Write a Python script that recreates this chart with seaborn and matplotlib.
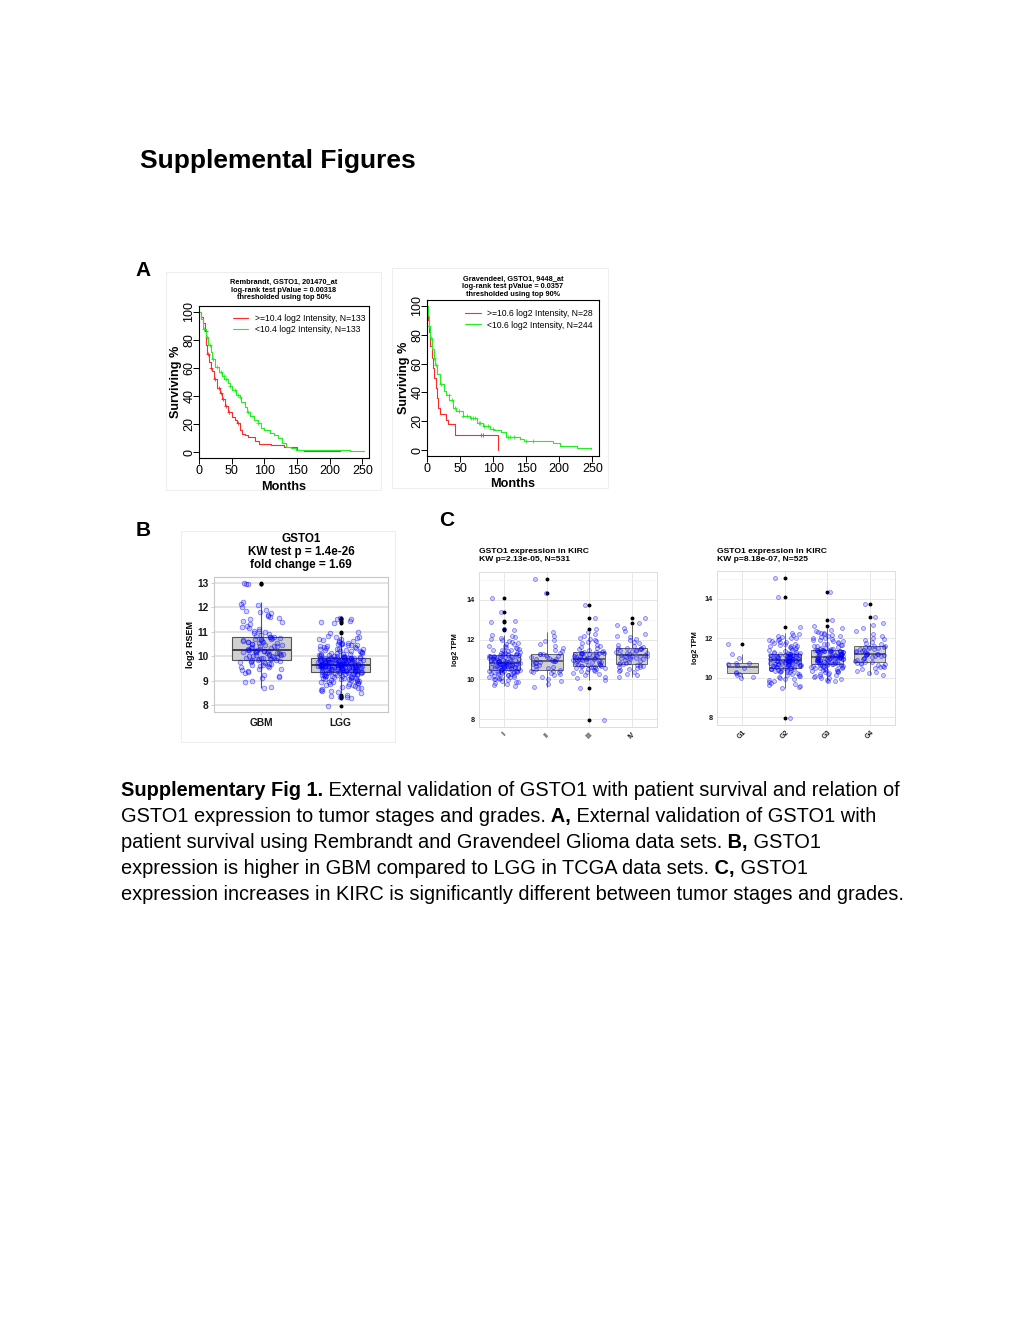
import numpy as np
import pandas as pd
import matplotlib
matplotlib.use('Agg')
import matplotlib.pyplot as plt
import seaborn as sns
from matplotlib.patches import Rectangle

W, H = 1020, 1320

# ---- A: Kaplan-Meier curves (months, surviving %) ----
rem_hi_t = [0, 3, 6, 9, 11, 13, 15, 18, 20, 23, 27, 32, 35, 40, 45, 50, 55, 58, 62, 66, 70, 75, 85, 92, 110, 130, 150, 160, 215]
rem_hi_s = [100, 96, 92, 86, 76, 70, 64, 60, 58, 52, 46, 42, 38, 33, 29, 25, 23, 21, 16, 13, 12, 11, 8, 6, 5, 4, 2, 1, 1]
rem_hi_cens = [10, 14, 19, 25, 30, 33, 37, 42, 46, 60]
rem_lo_t = [0, 3, 6, 10, 14, 18, 20, 24, 30, 35, 39, 44, 48, 51, 57, 62, 65, 70, 74, 78, 84, 90, 95, 100, 108, 115, 121, 127, 133, 140, 149, 231, 253]
rem_lo_s = [100, 95, 88, 82, 76, 71, 66, 61, 57, 54, 52, 49, 47, 44, 41, 39, 36, 32, 29, 26, 23, 21, 17, 16, 14, 12, 10, 7, 4, 3, 2, 1, 1]
rem_lo_cens = [7, 12, 17, 21, 28, 34, 38, 42, 48, 55, 60, 62, 75, 90]

grv_hi_t = [0, 1, 3, 5, 7, 9, 11, 13, 15, 17, 20, 28, 32, 42, 108]
grv_hi_s = [100, 90, 82, 72, 64, 57, 50, 43, 36, 29, 25, 21, 18, 10.7, 0]
grv_hi_cens = [82, 84]
grv_lo_t = [0, 1, 3, 5, 8, 10, 12, 15, 20, 25, 29, 34, 39, 44, 55, 65, 76, 85, 95, 102, 112, 119, 140, 146, 191, 201, 226, 248]
grv_lo_s = [100, 93, 86, 78, 70, 64, 59, 53, 46, 41, 38, 35, 29, 27, 24, 22, 19, 17, 15, 14, 12.5, 9, 8, 6.5, 5, 3, 1.5, 1]
grv_lo_cens = [3, 6, 10, 14, 21, 33, 38, 42, 48, 55, 60, 66, 70, 72, 78, 80, 86, 92, 100, 122, 126, 132, 150, 160]

# ---- B: TCGA glioma log2 RSEM ----
gbm_vals = [8.7, 8.75, 9.0, 9.1, 9.15, 9.2, 9.3, 9.35, 9.45, 9.5, 9.55, 9.6, 9.62, 9.65, 9.7, 9.72, 9.75, 9.78, 9.8, 9.83,
            9.86, 9.88, 9.9, 9.92, 9.95, 9.97, 10.0, 10.02, 10.04, 10.06, 10.08, 10.1, 10.12, 10.14, 10.16, 10.18, 10.2, 10.21, 10.22, 10.24,
            10.26, 10.3, 10.33, 10.36, 10.4, 10.43, 10.46, 10.5, 10.52, 10.55, 10.58, 10.6, 10.62, 10.65, 10.68, 10.7, 10.72, 10.75, 10.77, 10.79,
            10.82, 10.9, 10.95, 11.0, 11.05, 11.1, 11.2, 11.3, 11.4, 11.5, 11.6, 11.7, 11.75, 11.8, 11.9, 12.0, 12.2, 12.95, 12.95, 12.97,
            8.95, 9.25, 9.4, 9.5, 9.58, 9.66, 9.7, 9.76, 9.8, 9.84, 9.87, 9.93, 9.98, 10.03, 10.07, 10.11, 10.15, 10.19, 10.22, 10.24,
            10.28, 10.34, 10.41, 10.47, 10.53, 10.59, 10.64, 10.69, 10.74, 10.78, 10.85, 11.02, 11.15, 11.25, 11.45, 11.55, 11.65, 11.85, 12.1, 12.15]
lgg_vals = [7.98, 8.3, 8.33, 8.36, 8.38, 8.42, 8.5, 8.55, 8.6, 8.64, 8.68, 8.72, 8.76, 8.8, 8.83, 8.86, 8.89, 8.92, 8.95, 8.97,
            9.0, 9.02, 9.04, 9.07, 9.09, 9.11, 9.13, 9.15, 9.17, 9.19, 9.21, 9.23, 9.25, 9.26, 9.28, 9.29, 9.31, 9.32, 9.33, 9.34,
            9.36, 9.37, 9.38, 9.39, 9.40, 9.41, 9.42, 9.43, 9.44, 9.45, 9.46, 9.47, 9.48, 9.48, 9.49, 9.50, 9.51, 9.52, 9.53, 9.54,
            9.54, 9.55, 9.56, 9.57, 9.57, 9.58, 9.59, 9.59, 9.60, 9.60, 9.61, 9.61, 9.62, 9.62, 9.63, 9.63, 9.64, 9.64, 9.64, 9.65,
            9.66, 9.66, 9.67, 9.67, 9.68, 9.68, 9.69, 9.70, 9.70, 9.71, 9.72, 9.73, 9.73, 9.74, 9.75, 9.76, 9.77, 9.78, 9.78, 9.79,
            9.80, 9.81, 9.82, 9.83, 9.84, 9.85, 9.86, 9.86, 9.87, 9.88, 9.89, 9.90, 9.90, 9.91, 9.92, 9.92, 9.93, 9.93, 9.94, 9.94,
            9.96, 9.98, 10.0, 10.02, 10.04, 10.06, 10.08, 10.1, 10.12, 10.15, 10.17, 10.2, 10.23, 10.26, 10.29, 10.32, 10.35, 10.38, 10.41, 10.45,
            10.48, 10.52, 10.56, 10.6, 10.64, 10.68, 10.72, 10.76, 10.8, 10.82, 10.95, 11.0, 11.35, 11.4, 11.45, 11.5, 11.52, 11.55, 10.5, 10.3,
            8.6, 8.7, 8.78, 8.85, 8.9, 8.94, 8.99, 9.03, 9.06, 9.1, 9.12, 9.14, 9.18, 9.2, 9.22, 9.24, 9.27, 9.3, 9.31, 9.33,
            9.36, 9.38, 9.39, 9.41, 9.43, 9.45, 9.46, 9.48, 9.5, 9.51, 9.53, 9.55, 9.56, 9.58, 9.59, 9.6, 9.61, 9.62, 9.63, 9.645,
            9.665, 9.67, 9.69, 9.7, 9.72, 9.74, 9.75, 9.76, 9.78, 9.8, 9.81, 9.83, 9.84, 9.86, 9.88, 9.89, 9.91, 9.92, 9.93, 9.94,
            9.97, 9.99, 10.01, 10.03, 10.07, 10.11, 10.14, 10.18, 10.22, 10.27, 10.31, 10.36, 10.4, 10.44, 10.5, 10.55, 10.62, 10.7, 10.78, 10.3]

# ---- C: KIRC log2 TPM by stage and grade ----
stage_labels = ['I', 'II', 'III', 'IV']
stage_i = [9.68, 9.75, 9.8, 9.85, 9.9, 9.95, 10.0, 10.02, 10.05, 10.08, 10.1, 10.13, 10.16, 10.2, 10.22, 10.25, 10.28, 10.3, 10.32, 10.35, 10.37, 10.39, 10.41, 10.43, 10.44,
           10.46, 10.48, 10.5, 10.52, 10.54, 10.55, 10.57, 10.59, 10.6, 10.62, 10.63, 10.65, 10.66, 10.68, 10.69, 10.7, 10.72, 10.73, 10.74, 10.76, 10.77, 10.78, 10.79, 10.8, 10.81,
           10.83, 10.85, 10.86, 10.88, 10.9, 10.92, 10.93, 10.95, 10.97, 10.98, 11.0, 11.02, 11.04, 11.06, 11.08, 11.1, 11.12, 11.14, 11.15, 11.17, 11.18, 11.2, 11.21, 11.22, 11.23,
           11.26, 11.28, 11.3, 11.32, 11.35, 11.4, 11.45, 11.5, 11.55, 11.6, 11.65, 11.7, 11.78, 11.85, 11.9, 12.0, 12.1, 12.2, 12.25, 12.5, 12.55, 12.9, 12.95, 13.4, 14.1,
           9.72, 9.88, 10.04, 10.14, 10.24, 10.3, 10.34, 10.38, 10.4, 10.43, 10.47, 10.53, 10.58, 10.61, 10.64, 10.67, 10.71, 10.75, 10.78, 10.805,
           10.84, 10.87, 10.91, 10.94, 10.99, 11.03, 11.07, 11.11, 11.16, 11.19, 11.27, 11.33, 11.42, 11.48, 11.58, 11.68, 11.8, 11.95, 12.05, 12.15]
stage_ii = [9.62, 9.75, 9.9, 10.0, 10.1, 10.2, 10.25, 10.3, 10.35, 10.38, 10.42, 10.44,
            10.47, 10.52, 10.58, 10.62, 10.68, 10.72, 10.76, 10.8, 10.84, 10.87, 10.9, 10.91,
            10.93, 10.96, 11.0, 11.03, 11.06, 11.1, 11.14, 11.18, 11.22, 11.25, 11.27, 11.28,
            11.3, 11.4, 11.5, 11.6, 11.7, 11.8, 11.95, 12.0, 12.2, 12.38, 14.35, 15.05]
stage_iii = [7.95, 9.55, 9.98, 10.05, 10.12, 10.2, 10.25, 10.3, 10.35, 10.4, 10.43, 10.46, 10.5, 10.53, 10.56, 10.58, 10.6, 10.62, 10.64, 10.65,
             10.67, 10.69, 10.71, 10.73, 10.76, 10.78, 10.8, 10.83, 10.85, 10.87, 10.9, 10.92, 10.94, 10.96, 10.98, 11.0, 11.01, 11.02, 11.03, 11.035,
             11.05, 11.07, 11.09, 11.11, 11.13, 11.15, 11.17, 11.19, 11.21, 11.23, 11.25, 11.27, 11.29, 11.3, 11.31, 11.32, 11.33, 11.34, 11.35, 11.36,
             11.38, 11.42, 11.47, 11.52, 11.58, 11.63, 11.7, 11.75, 11.82, 11.9, 11.95, 12.0, 12.05, 12.1, 12.2, 12.3, 12.4, 12.55, 13.1, 13.75]
stage_iv = [10.12, 10.2, 10.28, 10.35, 10.4, 10.45, 10.5, 10.55, 10.6, 10.63, 10.66, 10.7, 10.72, 10.75, 10.77,
            10.8, 10.84, 10.88, 10.92, 10.96, 11.0, 11.03, 11.06, 11.09, 11.12, 11.14, 11.16, 11.17, 11.18, 11.19,
            11.21, 11.24, 11.27, 11.3, 11.33, 11.36, 11.4, 11.43, 11.46, 11.5, 11.53, 11.55, 11.57, 11.58, 11.59,
            11.62, 11.68, 11.75, 11.82, 11.9, 11.98, 12.05, 12.12, 12.2, 12.3, 12.45, 12.6, 12.75, 12.85, 13.1]

grade_labels = ['G1', 'G2', 'G3', 'G4']
grade_1 = [10.0, 10.05, 10.12, 10.2, 10.25, 10.3, 10.5, 10.62, 10.68, 10.72, 10.75, 11.0, 11.2, 11.7]
grade_2 = [7.97, 9.45, 9.55, 9.62, 9.7, 9.78, 9.85, 9.9, 9.95, 10.0, 10.05, 10.1, 10.15, 10.2, 10.24, 10.28, 10.3, 10.33, 10.36, 10.39, 10.41, 10.43, 10.45, 10.46, 10.48,
           10.5, 10.52, 10.54, 10.56, 10.58, 10.6, 10.62, 10.64, 10.66, 10.67, 10.69, 10.7, 10.72, 10.73, 10.75, 10.76, 10.78, 10.79, 10.8, 10.82, 10.83, 10.84, 10.85, 10.86, 10.865,
           10.88, 10.89, 10.9, 10.92, 10.93, 10.95, 10.96, 10.98, 11.0, 11.01, 11.03, 11.04, 11.06, 11.07, 11.09, 11.1, 11.12, 11.13, 11.15, 11.16, 11.17, 11.18, 11.19, 11.2, 11.205,
           11.23, 11.27, 11.3, 11.35, 11.4, 11.45, 11.5, 11.55, 11.6, 11.62, 11.65, 11.7, 11.75, 11.8, 11.85, 11.9, 11.95, 12.0, 12.05, 12.1, 12.2, 12.25, 12.55, 14.1, 15.05,
           9.6, 9.75, 9.92, 10.08, 10.18, 10.26, 10.32, 10.38, 10.42, 10.47, 10.51, 10.55, 10.59, 10.63, 10.68, 10.71, 10.74, 10.77, 10.81, 10.85,
           10.89, 10.91, 10.94, 10.97, 11.02, 11.05, 11.08, 11.11, 11.14, 11.18, 11.25, 11.32, 11.42, 11.52, 11.58, 11.68, 11.78, 11.88, 12.02, 12.15]
grade_3 = [9.82, 9.9, 9.95, 10.0, 10.05, 10.1, 10.15, 10.2, 10.24, 10.28, 10.32, 10.35, 10.38, 10.41, 10.44, 10.47, 10.5, 10.52, 10.55, 10.57, 10.59, 10.61, 10.63, 10.64, 10.65,
           10.67, 10.69, 10.71, 10.73, 10.75, 10.77, 10.79, 10.81, 10.83, 10.85, 10.87, 10.89, 10.9, 10.92, 10.93, 10.95, 10.96, 10.98, 10.99, 11.0, 11.01, 11.02, 11.03, 11.035, 11.04,
           11.05, 11.07, 11.09, 11.11, 11.13, 11.15, 11.17, 11.19, 11.21, 11.23, 11.25, 11.27, 11.29, 11.3, 11.32, 11.33, 11.34, 11.35, 11.36, 11.37, 11.38, 11.39, 11.4, 11.405, 11.41,
           11.43, 11.47, 11.5, 11.55, 11.6, 11.65, 11.7, 11.75, 11.8, 11.85, 11.9, 11.95, 12.0, 12.05, 12.1, 12.15, 12.2, 12.25, 12.3, 12.35, 12.4, 12.5, 12.6, 12.9, 14.32,
           9.85, 9.97, 10.08, 10.18, 10.26, 10.34, 10.42, 10.49, 10.56, 10.62, 10.68, 10.72, 10.76, 10.8, 10.84, 10.88, 10.91, 10.94, 10.97, 11.0,
           11.06, 11.1, 11.14, 11.18, 11.22, 11.26, 11.3, 11.33, 11.36, 11.39, 11.45, 11.52, 11.58, 11.66, 11.72, 11.83, 11.92, 12.02, 12.12, 12.28]
grade_4 = [10.15, 10.22, 10.3, 10.36, 10.42, 10.47, 10.52, 10.56, 10.6, 10.64, 10.68, 10.71, 10.74, 10.76, 10.78,
           10.81, 10.85, 10.89, 10.93, 10.97, 11.0, 11.04, 11.07, 11.1, 11.13, 11.15, 11.17, 11.18, 11.19, 11.2,
           11.22, 11.25, 11.28, 11.31, 11.34, 11.37, 11.4, 11.43, 11.46, 11.49, 11.52, 11.54, 11.56, 11.57, 11.58,
           11.62, 11.68, 11.74, 11.8, 11.88, 11.95, 12.02, 12.1, 12.2, 12.35, 12.5, 12.65, 12.75, 13.09, 13.73]

caption_lines = [
    [("Supplementary Fig 1.", True), (" External validation of GSTO1 with patient survival and relation of", False)],
    [("GSTO1 expression to tumor stages and grades.", False), (" A,", True), (" External validation of GSTO1 with", False)],
    [("patient survival using Rembrandt and Gravendeel Glioma data sets.", False), (" B,", True), (" GSTO1", False)],
    [("expression is higher in GBM compared to LGG in TCGA data sets.", False), (" C,", True), (" GSTO1", False)],
    [("expression increases in KIRC is significantly different between tumor stages and grades.", False)],
]

sns.set_theme(style='white')
plt.rcParams['font.family'] = ['Liberation Sans', 'DejaVu Sans']
for key in ['text.color', 'axes.labelcolor', 'xtick.color', 'ytick.color']:
    plt.rcParams[key] = 'black'
np.random.seed(3)  # keep the strip jitter stable between runs

fig = plt.figure(figsize=(W / 100, H / 100), dpi=100)
fig.patch.set_facecolor('white')


def px_axes(l, t, r, b):
    return fig.add_axes([l / W, 1 - b / H, (r - l) / W, (b - t) / H])


def px_text(x, y, s, **kw):
    return fig.text(x / W, 1 - y / H, s, **kw)


def px_rect(l, t, r, b, color='#eeeeee'):
    fig.patches.append(Rectangle((l / W, 1 - b / H), (r - l) / W, (b - t) / H, transform=fig.transFigure,
                                 fill=False, edgecolor=color, lw=0.8))


def km_panel(box, title, title_xy, curves, leg_xy, ylab_x, xlab_y):
    ax = px_axes(*box)
    for t, s, cens, color, lab in curves:
        sns.lineplot(x=t, y=s, ax=ax, color=color, lw=0.8, drawstyle='steps-post',
                     estimator=None, sort=False, label=lab)
        idx = np.searchsorted(t, cens, side='right') - 1
        ax.plot(cens, np.asarray(s)[idx], '+', color=color, ms=3, mew=0.6)
    ax.set_xlim(0, 260)
    ax.set_ylim(-4, 104)
    ax.set_xticks(range(0, 251, 50))
    ax.set_yticks(range(0, 101, 20))
    ax.tick_params(bottom=True, left=True, direction='out', length=4, width=0.7,
                   labelsize=9, pad=1, colors='black')
    ax.tick_params(axis='y', pad=-1.5)
    for lbl in ax.get_yticklabels():
        lbl.set_rotation(90)
        lbl.set_va('center')
    for sp in ax.spines.values():
        sp.set_color('black')
        sp.set_linewidth(0.8)
    ax.set_ylabel('Surviving %', fontsize=9.1, fontweight='bold')
    ax.yaxis.set_label_coords(ylab_x, 0.5)
    ax.set_xlabel('Months', fontsize=9.1, fontweight='bold')
    ax.xaxis.set_label_coords(0.5, xlab_y)
    ax.legend(loc='upper left', bbox_to_anchor=leg_xy, frameon=False, fontsize=6.2,
              handlelength=1.8, handletextpad=0.8, labelspacing=0.25, borderpad=0, borderaxespad=0)
    px_text(title_xy[0], title_xy[1], title, ha='center', va='center', fontsize=5.3,
            fontweight='bold', linespacing=1.1)
    return ax


def box_panel(box, cats, groups, xlim, ylim, yticks, jitter, psize, flier, lw):
    df = pd.DataFrame({'grp': np.repeat(cats, [len(g) for g in groups]),
                       'val': np.concatenate(groups)})
    ax = px_axes(*box)
    sns.boxplot(data=df, x='grp', y='val', order=cats, ax=ax, width=0.75, color='#d0d0d0',
                linecolor='#555555', linewidth=lw, fliersize=flier, showcaps=False,
                flierprops=dict(marker='o', markerfacecolor='black', markeredgecolor='black'),
                medianprops=dict(linewidth=lw * 1.8, color='#444444'))
    sns.stripplot(data=df, x='grp', y='val', order=cats, ax=ax, jitter=jitter, size=psize,
                  color='blue', linewidth=0.5, zorder=3, legend=False)
    for coll in ax.collections:
        coll.set_facecolor((0, 0, 1, 0.18))
        coll.set_edgecolor((0, 0, 1, 0.55))
    ax.set_xlim(*xlim)
    ax.set_ylim(*ylim)
    ax.set_yticks(yticks)
    ax.set_axisbelow(True)
    ax.set_xlabel('')
    return ax


# page header and panel letters
px_text(140, 161, 'Supplemental Figures', fontsize=19, fontweight='bold', va='center', ha='left')
px_text(143, 271, 'A', fontsize=15, fontweight='bold', va='center', ha='center')
px_text(143, 530, 'B', fontsize=15, fontweight='bold', va='center', ha='center')
px_text(447, 520, 'C', fontsize=15, fontweight='bold', va='center', ha='center')

px_rect(166, 272, 381, 490)
px_rect(392, 268, 608, 488)
px_rect(181, 531, 395, 742)

# A: survival
km_panel((199, 306, 369, 458),
         'Rembrandt, GSTO1, 201470_at\nlog-rank test pValue = 0.00318\nthresholded using top 50%', (284, 290),
         [(rem_hi_t, rem_hi_s, rem_hi_cens, '#ff2a2a', '>=10.4 log2 Intensity, N=133'),
          (rem_lo_t, rem_lo_s, rem_lo_cens, '#22ee22', '<10.4 log2 Intensity, N=133')],
         (0.2, 0.95), -0.1, -0.15)
km_panel((427, 300, 599, 456),
         'Gravendeel, GSTO1, 9448_at\nlog-rank test pValue = 0.0357\nthresholded using top 90%', (513, 287),
         [(grv_hi_t, grv_hi_s, grv_hi_cens, '#ff2a2a', '>=10.6 log2 Intensity, N=28'),
          (grv_lo_t, grv_lo_s, grv_lo_cens, '#22ee22', '<10.6 log2 Intensity, N=244')],
         (0.221, 0.94), -0.1, -0.138)

# B: GBM vs LGG
axb = box_panel((214, 577, 388, 712), ['GBM', 'LGG'], [gbm_vals, lgg_vals],
                (-0.6, 1.6), (7.73, 13.23), range(8, 14), 0.28, 3.4, 1.8, 0.8)
axb.grid(axis='y', color='#dcdcdc', lw=1.1)
axb.grid(axis='x', visible=False)
for sp in axb.spines.values():
    sp.set_color('#c8c8c8')
    sp.set_linewidth(0.8)
axb.tick_params(bottom=True, left=True, length=2, width=0.6, color='#c8c8c8',
                labelsize=7.3, pad=2, labelcolor='#1a1a1a')
for lbl in axb.get_xticklabels() + axb.get_yticklabels():
    lbl.set_fontweight('bold')
axb.set_ylabel('log2 RSEM', fontsize=6.5, fontweight='bold')
axb.yaxis.set_label_coords(-0.11, 0.5)
px_text(301, 552, 'GSTO1\nKW test p = 1.4e-26\nfold change = 1.69', ha='center', va='center',
        fontsize=8.4, fontweight='bold', linespacing=1.1)

# C: KIRC stages / grades
for box, cats, groups, head, ylx in [
        ((479, 572, 657, 727), stage_labels, [stage_i, stage_ii, stage_iii, stage_iv],
         'GSTO1 expression in KIRC\nKW p=2.13e-05, N=531', -0.112),
        ((717, 571, 895, 725), grade_labels, [grade_1, grade_2, grade_3, grade_4],
         'GSTO1 expression in KIRC\nKW p=8.18e-07, N=525', -0.101)]:
    ax = box_panel(box, cats, groups, (-0.6, 3.6), (7.6, 15.4), [8, 10, 12, 14], 0.38, 2.8, 1.8, 0.6)
    ax.set_yticks([9, 11, 13, 15], minor=True)
    ax.grid(which='major', color='#e6e6e6', lw=0.7)
    ax.grid(which='minor', axis='y', color='#f2f2f2', lw=0.5)
    for sp in ax.spines.values():
        sp.set_color('#dddddd')
        sp.set_linewidth(0.7)
    ax.tick_params(which='both', length=0, labelsize=5.3, pad=3, labelcolor='#1a1a1a')
    for lbl in ax.get_yticklabels():
        lbl.set_fontweight('bold')
    for lbl in ax.get_xticklabels():
        lbl.set_rotation(45)
        lbl.set_fontsize(5)
        lbl.set_fontweight('bold')
    ax.set_ylabel('log2 TPM', fontsize=5.3, fontweight='bold')
    ax.yaxis.set_label_coords(ylx, 0.5)
    px_text(box[0], 555.5, head, ha='left', va='center', fontsize=6.1, fontweight='bold', linespacing=1.05)

# caption with inline bold pieces
renderer = fig.canvas.get_renderer()
for i, parts in enumerate(caption_lines):
    x = 121
    y = 790 + i * 26.2
    for s, bold in parts:
        t = px_text(x, y, s, fontsize=14.4, fontweight='bold' if bold else 'normal', va='center', ha='left')
        x += t.get_window_extent(renderer=renderer).width

fig.savefig('out.png', dpi=100)
